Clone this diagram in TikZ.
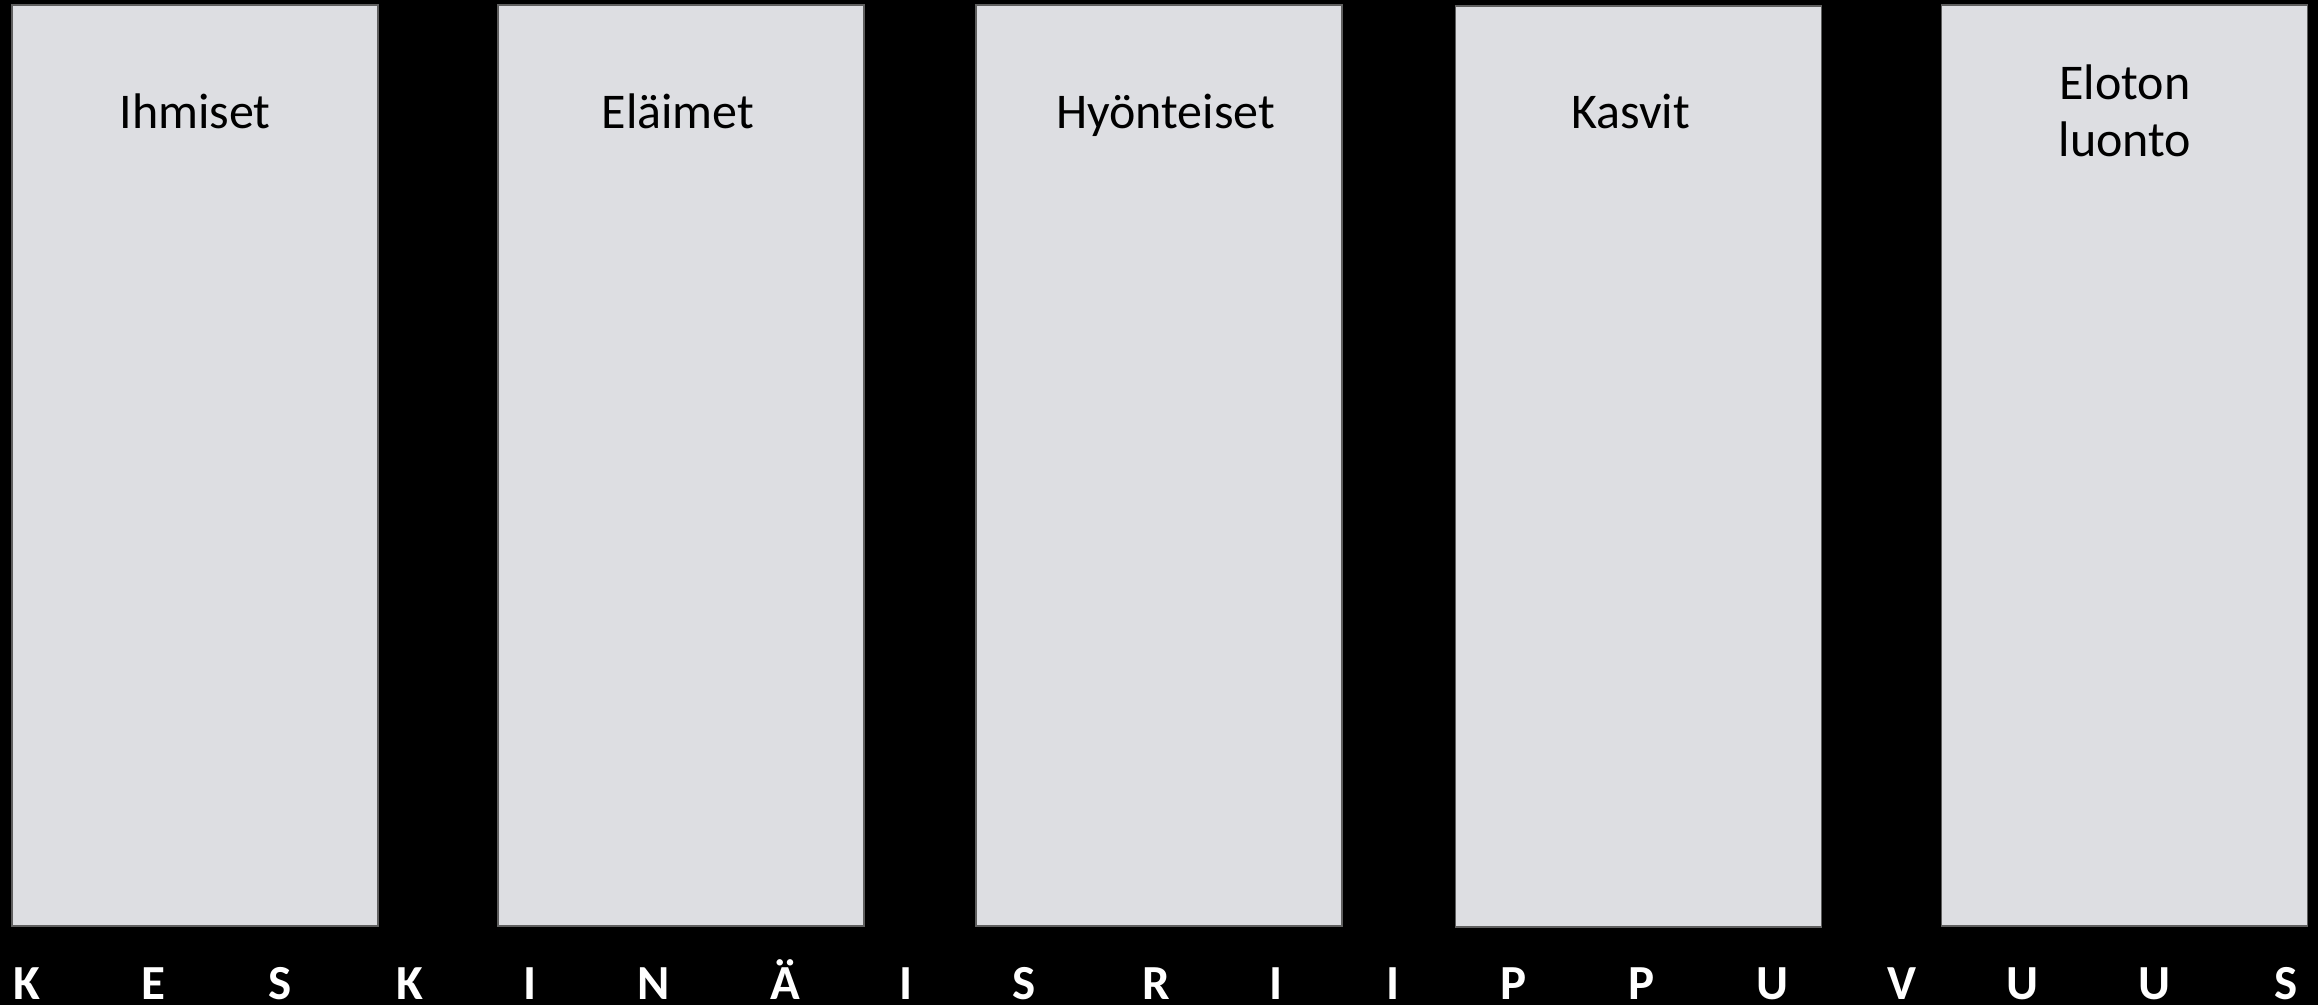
\documentclass[tikz,border=0pt]{standalone}
\usepackage{fontspec}
\setmainfont{Carlito}
\usepackage{xcolor}
\usetikzlibrary{positioning}
\definecolor{panelgray}{HTML}{DDDEE2}
\definecolor{edgegray}{HTML}{5F5F5F}

\begin{document}
\begin{tikzpicture}[x=1pt, y=-1pt,
  panel/.style={draw=edgegray, line width=1.5pt, fill=panelgray,
    minimum width=366pt, minimum height=921pt, inner sep=0pt},
  heading/.style={font=\fontsize{50}{57}\selectfont, align=center,
    inner sep=0pt, anchor=base},
  letter/.style={font=\fontsize{49}{60}\selectfont\bfseries, text=white,
    inner sep=0pt, anchor=base}]
  % --- Background ---
  \useasboundingbox (0,0) rectangle (2318,1005);
  \fill[black] (0,0) rectangle (2318,1005);
  % --- Panels ---
  \node[panel] (ihmiset) at (195,465.5) {};
  \node[panel] (elaimet) at (681,465.5) {};
  \node[panel] (hyonteiset) at (1159,465.5) {};
  \node[panel] (kasvit) at (1638.5,466.5) {};
  \node[panel] (eloton) at (2124.5,465.5) {};
  % --- Headings ---
  \node[heading] (ihmiset-t) at (195,128) {Ihmiset};
  \node[heading] (elaimet-t) at (678,128) {Eläimet};
  \node[heading] (hyonteiset-t) at (1165.5,128) {Hyönteiset};
  \node[heading] (kasvit-t) at (1630.5,128) {Kasvit};
  \node[heading] (eloton-t) at (2125,156) {Eloton\\luonto};
  % --- Bottom word, spread out ---
  \foreach \x/\c [count=\i] in {27/K, 153/E, 280/S, 410/K, 530/I, 654/N,
      785/Ä, 906/I, 1024/S, 1156/R, 1276/I, 1393/I, 1514/P, 1642/P,
      1772/U, 1902/V, 2022/U, 2154/U, 2286/S}
    \node[letter] (l\i) at (\x,999) {\c};
\end{tikzpicture}
\end{document}
